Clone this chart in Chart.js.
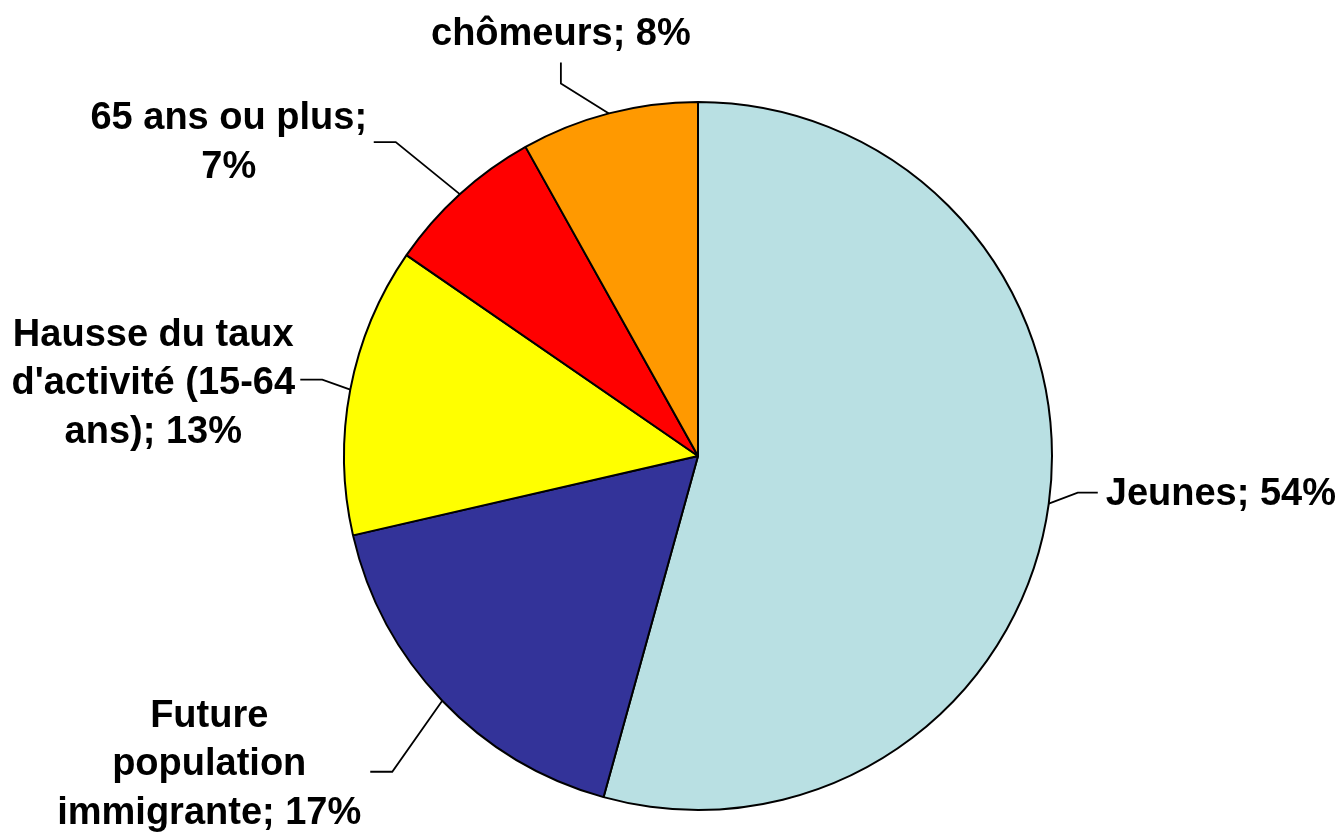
<!DOCTYPE html>
<html>
<head>
<meta charset="utf-8">
<script src="https://cdn.jsdelivr.net/npm/chart.js@4.4.1/dist/chart.umd.min.js"></script>
<style>
  html, body { margin: 0; padding: 0; background: #fff; }
  #wrap { width: 1344px; height: 838px; }
</style>
</head>
<body>
<div id="wrap"><canvas id="pieChart" width="1344" height="838"></canvas></div>
<script>
// Data
const categories = ['Jeunes', 'Future population immigrante', "Hausse du taux d'activité (15-64 ans)", '65 ans ou plus', 'chômeurs'];
const shares = [54.3, 17.1, 13.2, 7.3, 8.1];
const percentLabels = ['54%', '17%', '13%', '7%', '8%'];
const labelLines = [
    ['Jeunes; 54%'],
    ['Future', 'population', 'immigrante; 17%'],
    ['Hausse du taux', "d'activité (15-64", 'ans); 13%'],
    ['65 ans ou plus;', '7%'],
    ['chômeurs; 8%']
];
const sliceColors = ['#B9E0E3', '#333399', '#FFFF00', '#FF0000', '#FF9900'];

// Leader line layout: elbow offset from arc edge, end offset from elbow, text offset from end
const leaderLayout = [
    { elbow: [29, -11], end: [20, 0], text: [8, 12], align: 'left' },
    { elbow: [-50, 71], end: [-22, 0], text: [-161, -45], align: 'center' },
    { elbow: [-28, -10], end: [-22, 0], text: [-147, -34], align: 'center' },
    { elbow: [-64, -52], end: [-22, 0], text: [-145, -13], align: 'center' },
    { elbow: [-48, -30], end: [0, -21], text: [0, -17], align: 'center' }
];

const LINE_H = 48.5;

const leaderLabels = {
    id: 'leaderLabels',
    afterDatasetsDraw(chart) {
        const ctx = chart.ctx;
        const arcs = chart.getDatasetMeta(0).data;
        ctx.save();
        ctx.strokeStyle = '#000';
        ctx.lineWidth = 1.8;
        ctx.fillStyle = '#000';
        ctx.font = 'bold 38px "Liberation Sans", Arial, sans-serif';
        ctx.textBaseline = 'alphabetic';
        arcs.forEach((arc, i) => {
            const mid = (arc.startAngle + arc.endAngle) / 2;
            const px = arc.x + Math.cos(mid) * arc.outerRadius;
            const py = arc.y + Math.sin(mid) * arc.outerRadius;
            const lay = leaderLayout[i];
            const ex = px + lay.elbow[0], ey = py + lay.elbow[1];
            const tx = ex + lay.end[0], ty = ey + lay.end[1];
            ctx.beginPath();
            ctx.moveTo(px, py);
            ctx.lineTo(ex, ey);
            ctx.lineTo(tx, ty);
            ctx.stroke();
            ctx.textAlign = lay.align;
            labelLines[i].forEach((line, j) => {
                ctx.fillText(line, tx + lay.text[0], ty + lay.text[1] + j * LINE_H);
            });
        });
        ctx.restore();
    }
};

new Chart(document.getElementById('pieChart'), {
    type: 'pie',
    data: {
        labels: categories,
        datasets: [{
            data: shares,
            backgroundColor: sliceColors,
            borderColor: '#000',
            borderWidth: 2
        }]
    },
    options: {
        responsive: false,
        animation: false,
        layout: { padding: { top: 101, bottom: 27, left: 52, right: 0 } },
        plugins: {
            legend: { display: false },
            tooltip: { enabled: false }
        }
    },
    plugins: [leaderLabels]
});
</script>
</body>
</html>
